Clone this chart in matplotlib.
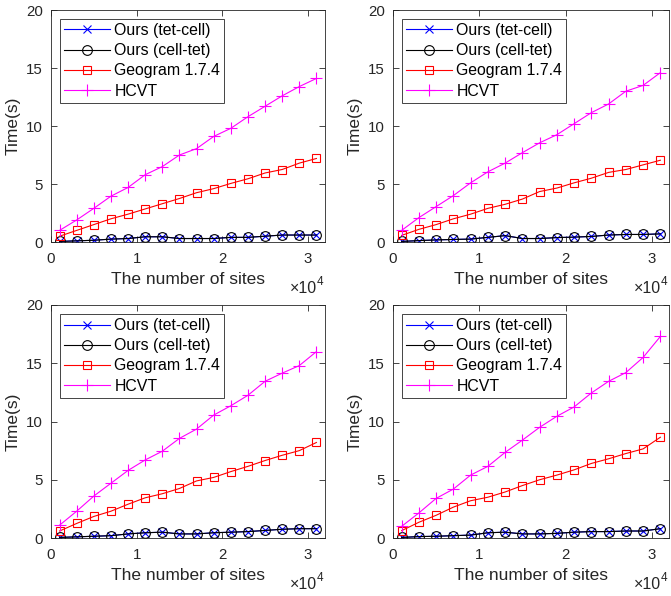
import matplotlib
matplotlib.use("Agg")
import matplotlib.pyplot as plt
import numpy as np

plt.rcParams['font.family'] = ['Liberation Sans', 'DejaVu Sans']

sites = [1000, 3000, 5000, 7000, 9000, 11000, 13000, 15000, 17000, 19000,
         21000, 23000, 25000, 27000, 29000, 31000]

labels = ["Ours (tet-cell)", "Ours (cell-tet)", "Geogram 1.7.4", "HCVT"]

# Panel 1 (top-left)
p1_tetcell = [0.05, 0.1, 0.15, 0.25, 0.3, 0.45, 0.45, 0.3, 0.3, 0.3, 0.4, 0.4, 0.5, 0.6, 0.6, 0.6]
p1_celltet = [0.05, 0.1, 0.15, 0.25, 0.3, 0.45, 0.45, 0.3, 0.3, 0.3, 0.4, 0.4, 0.5, 0.6, 0.6, 0.6]
p1_geogram = [0.5, 1.0, 1.5, 2.0, 2.4, 2.85, 3.3, 3.75, 4.25, 4.6, 5.05, 5.45, 5.95, 6.25, 6.8, 7.2]
p1_hcvt = [1.0, 1.9, 2.9, 3.95, 4.7, 5.8, 6.5, 7.5, 8.05, 9.1, 9.8, 10.8, 11.7, 12.6, 13.4, 14.1]

# Panel 2 (top-right)
p2_tetcell = [0.05, 0.12, 0.18, 0.22, 0.25, 0.4, 0.55, 0.3, 0.3, 0.38, 0.42, 0.48, 0.6, 0.65, 0.65, 0.7]
p2_celltet = [0.05, 0.12, 0.18, 0.22, 0.25, 0.4, 0.55, 0.3, 0.3, 0.38, 0.42, 0.48, 0.6, 0.65, 0.65, 0.7]
p2_geogram = [0.57, 1.09, 1.5, 2.0, 2.4, 2.9, 3.25, 3.7, 4.35, 4.65, 5.1, 5.5, 6.0, 6.25, 6.65, 7.05]
p2_hcvt = [1.0, 2.1, 3.05, 4.0, 5.1, 6.05, 6.8, 7.7, 8.55, 9.25, 10.2, 11.15, 11.9, 13.0, 13.5, 14.6]

# Panel 3 (bottom-left)
p3_tetcell = [0.05, 0.1, 0.15, 0.2, 0.35, 0.45, 0.5, 0.35, 0.35, 0.45, 0.5, 0.55, 0.65, 0.75, 0.8, 0.8]
p3_celltet = [0.05, 0.1, 0.15, 0.2, 0.35, 0.45, 0.5, 0.35, 0.35, 0.45, 0.5, 0.55, 0.65, 0.75, 0.8, 0.8]
p3_geogram = [0.6, 1.25, 1.85, 2.3, 2.9, 3.45, 3.8, 4.25, 4.9, 5.2, 5.7, 6.15, 6.65, 7.1, 7.5, 8.2]
p3_hcvt = [1.1, 2.3, 3.6, 4.7, 5.8, 6.7, 7.45, 8.55, 9.35, 10.55, 11.35, 12.25, 13.45, 14.15, 14.8, 16.0]

# Panel 4 (bottom-right)
p4_tetcell = [0.05, 0.12, 0.15, 0.2, 0.25, 0.45, 0.5, 0.35, 0.35, 0.4, 0.5, 0.55, 0.55, 0.6, 0.6, 0.8]
p4_celltet = [0.05, 0.12, 0.15, 0.2, 0.25, 0.45, 0.5, 0.35, 0.35, 0.4, 0.5, 0.55, 0.55, 0.6, 0.6, 0.8]
p4_geogram = [0.63, 1.35, 1.95, 2.65, 3.2, 3.5, 3.95, 4.5, 5.0, 5.4, 5.85, 6.4, 6.8, 7.25, 7.65, 8.65]
p4_hcvt = [1.0, 2.15, 3.4, 4.2, 5.4, 6.15, 7.35, 8.4, 9.5, 10.45, 11.25, 12.45, 13.45, 14.2, 15.5, 17.3]

panels = [
    (p1_tetcell, p1_celltet, p1_geogram, p1_hcvt),
    (p2_tetcell, p2_celltet, p2_geogram, p2_hcvt),
    (p3_tetcell, p3_celltet, p3_geogram, p3_hcvt),
    (p4_tetcell, p4_celltet, p4_geogram, p4_hcvt),
]

xticks = [0, 10000, 20000, 30000]
xtick_labels = ["0", "1", "2", "3"]
yticks = [0, 5, 10, 15, 20]

W, H = 671, 596
fig = plt.figure(figsize=(W / 100, H / 100), dpi=100)

# axes rectangles in pixels: (left, top, right, bottom)
rects = [(51, 10, 325, 242), (393, 10, 669, 242),
         (51, 305, 325, 538), (393, 305, 669, 538)]

gray = '#262626'
fs_tick = 10.8
fs_label = 12.5
fs_leg = 11.4

for (l, t, r, b), data in zip(rects, panels):
    ax = fig.add_axes([l / W, 1 - b / H, (r - l) / W, (b - t) / H])
    tc, ct, gg, hc = data
    ax.plot(sites, tc, color='#0000ff', marker='x', lw=0.8, ms=6, mew=0.8, label=labels[0])
    ax.plot(sites, ct, color='black', marker='o', lw=0.8, ms=7, mew=0.8, mfc='none', label=labels[1])
    ax.plot(sites, gg, color='#ff0000', marker='s', lw=0.8, ms=5.5, mew=0.8, mfc='none', label=labels[2])
    ax.plot(sites, hc, color='#ff00ff', marker='+', lw=0.8, ms=8, mew=0.8, label=labels[3])
    ax.set_xlim(0, 32000)
    ax.set_ylim(0, 20)
    ax.set_xticks(xticks)
    ax.set_xticklabels(xtick_labels)
    ax.set_yticks(yticks)
    ax.tick_params(direction='in', top=True, right=True, length=4, width=0.6,
                   colors=gray, labelsize=fs_tick)
    ax.tick_params(axis='x', pad=7.5)
    ax.tick_params(axis='y', pad=5.8)
    for s in ax.spines.values():
        s.set_color(gray)
        s.set_linewidth(0.6)
    ax.set_xlabel("The number of sites", fontsize=fs_label, color=gray, labelpad=4)
    ax.set_ylabel("Time(s)", fontsize=fs_label, color=gray, labelpad=4)
    ax.annotate("×10", xy=(1, 0), xycoords='axes fraction', xytext=(-8, -51),
                textcoords='offset pixels', ha='right', va='baseline',
                fontsize=11.5, color=gray)
    ax.annotate("4", xy=(1, 0), xycoords='axes fraction', xytext=(-1.5, -43),
                textcoords='offset pixels', ha='right', va='baseline',
                fontsize=8.5, color=gray)
    leg = ax.legend(loc='upper left', bbox_to_anchor=(0.033, 0.961), fontsize=fs_leg,
                    frameon=True, fancybox=False, edgecolor=gray, handlelength=2.9,
                    borderpad=0.25, labelspacing=0.33, handletextpad=0.28,
                    borderaxespad=0.0, framealpha=1)
    leg.get_frame().set_linewidth(0.6)
    for txt in leg.get_texts():
        txt.set_color('black')

fig.savefig("out.png", dpi=100)
